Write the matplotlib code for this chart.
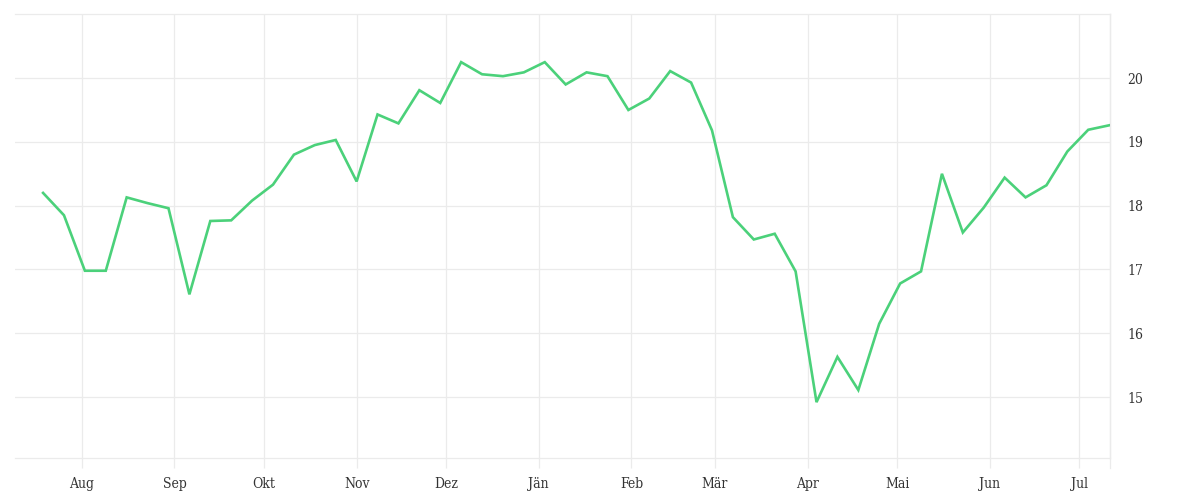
import matplotlib
matplotlib.use("Agg")
import matplotlib.pyplot as plt
import pandas as pd

# weekly values
start_date = "2022-07-19"
values = [18.20, 17.85, 16.98, 16.98, 18.13, 18.04, 17.96, 16.61, 17.76, 17.77,
          18.08, 18.33, 18.80, 18.95, 19.03, 18.38, 19.43, 19.29, 19.81, 19.61,
          20.25, 20.06, 20.03, 20.09, 20.25, 19.90, 20.09, 20.03, 19.50, 19.68,
          20.11, 19.93, 19.18, 17.82, 17.47, 17.56, 16.97, 14.92, 15.63, 15.11,
          16.15, 16.78, 16.97, 18.50, 17.58, 17.97, 18.44, 18.13, 18.32, 18.85,
          19.19, 19.26]
month_ticks = ["2022-08-01", "2022-09-01", "2022-10-01", "2022-11-01", "2022-12-01",
               "2023-01-01", "2023-02-01", "2023-03-01", "2023-04-01", "2023-05-01",
               "2023-06-01", "2023-07-01"]
month_labels = ["Aug", "Sep", "Okt", "Nov", "Dez", "Jän", "Feb", "Mär", "Apr",
                "Mai", "Jun", "Jul"]
y_ticks = [15, 16, 17, 18, 19, 20]

dates = pd.date_range(start_date, periods=len(values), freq="7D")

grid_col = "#ebebeb"
text_col = "#333333"
line_col = "#4bd17a"

fig = plt.figure(figsize=(12, 5), dpi=100)
ax = fig.add_axes([0.0125, 0.0834, 0.9128, 0.888])

ax.plot(dates, values, color=line_col, linewidth=1.9, solid_joinstyle="miter", zorder=3)

ax.set_xlim(dates[0] - pd.Timedelta(days=9.4), dates[-1] + pd.Timedelta(days=0.4))
ax.set_ylim(14.04, 21.0)

ax.set_xticks(pd.to_datetime(month_ticks))
ax.set_xticklabels(month_labels)
ax.set_yticks(y_ticks)
ax.set_yticklabels([str(v) for v in y_ticks])

ax.yaxis.tick_right()
ax.grid(True, color=grid_col, linewidth=0.9)
ax.set_axisbelow(True)

for side in ["left"]:
    ax.spines[side].set_visible(False)
for side in ["top", "bottom", "right"]:
    ax.spines[side].set_color(grid_col)
    ax.spines[side].set_linewidth(0.9)

# right edge line runs down past the axis like the ticks
ax.axvline(ax.get_xlim()[1], ymin=-0.0225, ymax=1.0, color=grid_col,
           linewidth=0.9, clip_on=False)

ax.tick_params(axis="x", length=7.5, width=0.9, color=grid_col, pad=6,
               labelsize=10, labelcolor=text_col)
ax.tick_params(axis="y", length=0, pad=12, labelsize=10, labelcolor=text_col)

for lab in ax.get_xticklabels() + ax.get_yticklabels():
    lab.set_family(["DejaVu Serif", "Liberation Serif"])
    lab.set_stretch("condensed")

fig.savefig("out.png", dpi=100)
